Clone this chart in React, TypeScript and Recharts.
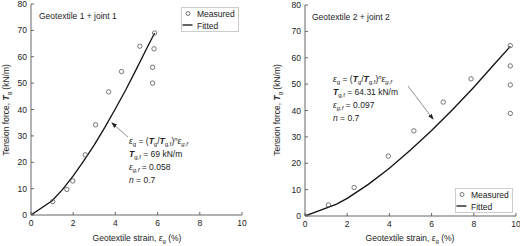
import React from 'react';
import { ComposedChart, Line, Scatter, XAxis, YAxis } from 'recharts';

// Geotextile 1 + joint 1
const measured1X = [0, 1.03, 1.7, 1.98, 2.57, 3.06, 3.68, 4.29, 5.16, 5.86, 5.83, 5.76, 5.76];
const measured1Y = [0, 5.1, 9.7, 12.9, 22.8, 34.2, 46.7, 54.4, 64.0, 69.0, 63.0, 56.0, 50.0];
const fitted1X = [0, 1.0, 1.5, 2.0, 2.5, 3.0, 3.5, 4.0, 4.5, 5.0, 5.5, 5.86];
const fitted1Y = [0, 5.4, 9.7, 14.8, 20.5, 26.6, 33.2, 40.3, 47.6, 55.4, 63.4, 69.0];

// Geotextile 2 + joint 2
const measured2X = [0, 1.11, 2.33, 3.95, 5.16, 6.55, 7.87, 9.73, 9.73, 9.73, 9.73];
const measured2Y = [0, 4.2, 10.8, 22.7, 32.3, 43.2, 52.0, 64.6, 56.9, 49.7, 38.9];
const fitted2X = [0, 1.5, 2.0, 3.0, 4.0, 5.0, 6.0, 7.0, 8.0, 9.0, 9.73];
const fitted2Y = [0, 4.5, 6.7, 12.0, 18.1, 25.0, 32.4, 40.4, 48.8, 57.8, 64.3];

const xTicks = [0, 2, 4, 6, 8, 10];
const yTicks = [0, 10, 20, 30, 40, 50, 60, 70, 80];

const FONT = '"Liberation Sans", Arial, sans-serif';
const AXIS = '#666';
const TXT = '#222';

const zip = (xs: number[], ys: number[]) => xs.map((x, i) => ({ x, y: ys[i] }));

const XTick = (props: any) => {
  const { x, y, payload } = props;
  return (
    <g>
      <line x1={x} y1={y} x2={x} y2={y - 3} stroke={AXIS} />
      <text x={x} y={y + 11} textAnchor="middle" fontSize={8.5} fill={TXT} fontFamily={FONT}>
        {payload.value}
      </text>
    </g>
  );
};

const YTick = (props: any) => {
  const { x, y, payload } = props;
  return (
    <g>
      <line x1={x} y1={y} x2={x + 3} y2={y} stroke={AXIS} />
      <text x={x - 4} y={y + 3} textAnchor="end" fontSize={8.5} fill={TXT} fontFamily={FONT}>
        {payload.value}
      </text>
    </g>
  );
};

const OpenCircle = (props: any) => (
  <circle cx={props.cx} cy={props.cy} r={2.2} fill="none" stroke="#555" strokeWidth={0.8} />
);

const LegendBox: React.FC<{ x: number; y: number }> = ({ x, y }) => (
  <g transform={`translate(${x} ${y})`}>
    <rect x={0.5} y={0.5} width={57} height={24} fill="#fff" stroke="#ccc" />
    <circle cx={7} cy={6.5} r={2} fill="none" stroke="#555" strokeWidth={0.8} />
    <text x={16} y={9.5} fontSize={8.5} fill={TXT} fontFamily={FONT}>Measured</text>
    <line x1={1.5} y1={18} x2={11.5} y2={18} stroke="#111" strokeWidth={1.3} />
    <text x={16} y={21.5} fontSize={8.5} fill={TXT} fontFamily={FONT}>Fitted</text>
  </g>
);

interface PanelProps {
  measured: { x: number; y: number }[];
  fitted: { x: number; y: number }[];
  top: number;
  right: number;
  yWidth: number;
  xHeight: number;
}

const Panel: React.FC<PanelProps> = ({ measured, fitted, top, right, yWidth, xHeight }) => (
  <ComposedChart width={260} height={246} margin={{ top, right, bottom: 0, left: 0 }}>
    <XAxis
      type="number"
      dataKey="x"
      domain={[0, 10]}
      ticks={xTicks}
      interval={0}
      tick={<XTick />}
      tickSize={0}
      tickMargin={0}
      height={xHeight}
      axisLine={{ stroke: AXIS }}
      tickLine={false}
      allowDataOverflow
    />
    <YAxis
      type="number"
      dataKey="y"
      domain={[0, 80]}
      ticks={yTicks}
      interval={0}
      tick={<YTick />}
      tickSize={0}
      tickMargin={0}
      width={yWidth}
      axisLine={{ stroke: AXIS }}
      tickLine={false}
      allowDataOverflow
    />
    <Line
      data={fitted}
      dataKey="y"
      type="linear"
      stroke="#111"
      strokeWidth={1.3}
      dot={false}
      isAnimationActive={false}
      name="Fitted"
    />
    <Scatter
      data={measured}
      dataKey="y"
      shape={<OpenCircle />}
      isAnimationActive={false}
      name="Measured"
    />
  </ComposedChart>
);

const Eq: React.FC<{ x: number; y: number }> = ({ x, y }) => (
  <text x={x} y={y} fontSize={8.5} fill={TXT} fontFamily={FONT}>
    <tspan fontStyle="italic">ε</tspan>
    <tspan fontSize={6} dy={2}>g</tspan>
    <tspan dy={-2}> = (</tspan>
    <tspan fontStyle="italic" fontWeight="bold">T</tspan>
    <tspan fontSize={6} dy={2}>g</tspan>
    <tspan dy={-2}>/</tspan>
    <tspan fontStyle="italic" fontWeight="bold">T</tspan>
    <tspan fontSize={6} dy={2}>g,f</tspan>
    <tspan dy={-2}>)</tspan>
    <tspan fontSize={6} fontStyle="italic" dy={-3}>n</tspan>
    <tspan fontStyle="italic" dy={3}>ε</tspan>
    <tspan fontSize={6} fontStyle="italic" dy={2}>g,f</tspan>
  </text>
);

const Params: React.FC<{ x: number; y: number; tf: string; ef: string }> = ({ x, y, tf, ef }) => (
  <g>
    <Eq x={x} y={y} />
    <text x={x} y={y + 13} fontSize={8.5} fill={TXT} fontFamily={FONT}>
      <tspan fontStyle="italic" fontWeight="bold">T</tspan>
      <tspan fontSize={6} dy={2}>g,f</tspan>
      <tspan dy={-2}> = {tf} kN/m</tspan>
    </text>
    <text x={x} y={y + 26} fontSize={8.5} fill={TXT} fontFamily={FONT}>
      <tspan fontStyle="italic">ε</tspan>
      <tspan fontSize={6} fontStyle="italic" dy={2}>g,f</tspan>
      <tspan dy={-2}> = {ef}</tspan>
    </text>
    <text x={x} y={y + 39} fontSize={8.5} fill={TXT} fontFamily={FONT}>
      <tspan fontStyle="italic">n</tspan>
      <tspan> = 0.7</tspan>
    </text>
  </g>
);

const YLabel: React.FC<{ x: number; y: number }> = ({ x, y }) => (
  <text x={x} y={y} transform={`rotate(-90 ${x} ${y})`} textAnchor="middle" fontSize={8.5} fill={TXT} fontFamily={FONT}>
    Tension force, <tspan fontStyle="italic" fontWeight="bold">T</tspan>
    <tspan fontSize={6} dy={2}>g</tspan>
    <tspan dy={-2}> (kN/m)</tspan>
  </text>
);

const XLabel: React.FC<{ x: number; y: number }> = ({ x, y }) => (
  <text x={x} y={y} textAnchor="middle" fontSize={8.5} fill={TXT} fontFamily={FONT}>
    Geotextile strain, <tspan fontStyle="italic">ε</tspan>
    <tspan fontSize={6} dy={2}>g</tspan>
    <tspan dy={-2}> (%)</tspan>
  </text>
);

export default function App() {
  return (
    <div style={{ position: 'absolute', left: 0, top: 0, width: 520, height: 246, background: '#fff' }}>
      <div style={{ position: 'absolute', left: 0, top: 0 }}>
        <Panel
          measured={zip(measured1X, measured1Y)}
          fitted={zip(fitted1X, fitted1Y)}
          top={4}
          right={18}
          yWidth={31}
          xHeight={31}
        />
      </div>
      <div style={{ position: 'absolute', left: 260, top: 0 }}>
        <Panel
          measured={zip(measured2X, measured2Y)}
          fitted={zip(fitted2X, fitted2Y)}
          top={5}
          right={4}
          yWidth={45}
          xHeight={30}
        />
      </div>
      <svg width={520} height={246} style={{ position: 'absolute', left: 0, top: 0, pointerEvents: 'none' }}>
        <defs>
          <marker id="ah" markerWidth="6" markerHeight="6" refX="5" refY="3" orient="auto" markerUnits="userSpaceOnUse">
            <path d="M0,0.8 L6,3 L0,5.2 z" fill="#222" />
          </marker>
        </defs>
        <LegendBox x={181} y={7} />
        <LegendBox x={455} y={188} />
        <text x={39} y={19} fontSize={8.5} fill={TXT} fontFamily={FONT}>Geotextile 1 + joint 1</text>
        <text x={312} y={20} fontSize={8.5} fill={TXT} fontFamily={FONT}>Geotextile 2 + joint 2</text>
        <YLabel x={9} y={110} />
        <YLabel x={280} y={110} />
        <XLabel x={137} y={241} />
        <XLabel x={410} y={241} />
        <line x1={128} y1={137} x2={112} y2={123} stroke="#777" strokeWidth={0.8} markerEnd="url(#ah)" />
        <Params x={129} y={144} tf="69" ef="0.058" />
        <line x1={408} y1={86} x2={433} y2={119} stroke="#777" strokeWidth={0.8} markerEnd="url(#ah)" />
        <Params x={333} y={82} tf="64.31" ef="0.097" />
      </svg>
    </div>
  );
}
